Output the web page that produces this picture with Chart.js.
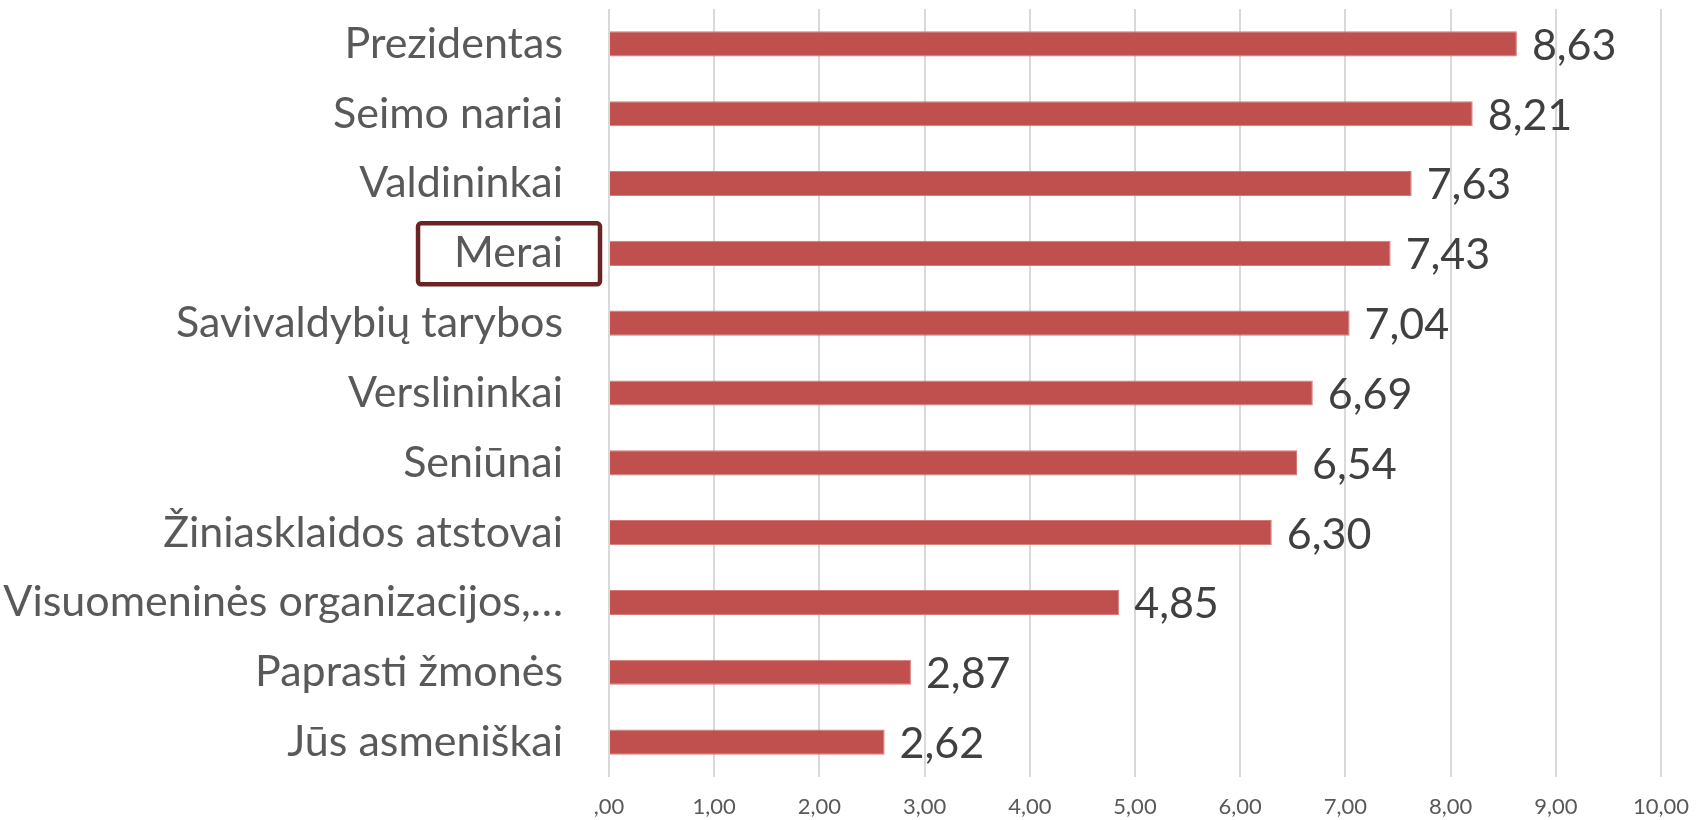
<!DOCTYPE html>
<html>
<head>
<meta charset="utf-8">
<script src="https://cdn.jsdelivr.net/npm/chart.js@4"></script>
<style>
    html, body { margin: 0; padding: 0; background: #ffffff; }
    #wrap { width: 1699px; height: 820px; }
</style>
</head>
<body>
<div id="wrap"><canvas id="trustChart" width="1699" height="820"></canvas></div>
<script>
const categories = [
    'Prezidentas',
    'Seimo nariai',
    'Valdininkai',
    'Merai',
    'Savivaldybių tarybos',
    'Verslininkai',
    'Seniūnai',
    'Žiniasklaidos atstovai',
    'Visuomeninės organizacijos,…',
    'Paprasti žmonės',
    'Jūs asmeniškai'
];

const scores = [8.63, 8.21, 7.63, 7.43, 7.04, 6.69, 6.54, 6.30, 4.85, 2.87, 2.62];

const tickValues = [0, 1, 2, 3, 4, 5, 6, 7, 8, 9, 10];

const highlighted = 'Merai';

function lt(v, digits) {
    const s = v.toFixed(digits).replace('.', ',');
    return s.startsWith('0,') ? s.slice(1) : s;
}

// value labels at the end of each bar
const valueLabels = {
    id: 'valueLabels',
    afterDatasetsDraw(chart) {
        const c = chart.ctx;
        const meta = chart.getDatasetMeta(0);
        c.save();
        c.font = '43px Lato';
        c.fillStyle = '#404040';
        c.textAlign = 'left';
        c.textBaseline = 'middle';
        meta.data.forEach((bar, i) => {
            c.fillText(lt(scores[i], 2), bar.x + 15, bar.y + 2);
        });
        c.restore();
    }
};

// frame around the highlighted category label
const labelFrame = {
    id: 'labelFrame',
    afterDraw(chart) {
        const c = chart.ctx;
        const yScale = chart.scales.y;
        const idx = categories.indexOf(highlighted);
        if (idx < 0) return;
        const y = yScale.getPixelForValue(idx);
        c.save();
        c.font = '43px Lato';
        const w = c.measureText(highlighted).width;
        const right = yScale.right - 46;
        const x0 = right - w - 36;
        const x1 = right + 37;
        c.strokeStyle = '#6b2424';
        c.lineWidth = 4.5;
        c.beginPath();
        c.roundRect(x0, y - 30, x1 - x0, 61, 3);
        c.stroke();
        c.restore();
    }
};

const ctx = document.getElementById('trustChart').getContext('2d');

const trustChart = new Chart(ctx, {
    type: 'bar',
    data: {
        labels: categories,
        datasets: [{
            data: scores,
            backgroundColor: '#c0504d',
            borderColor: '#d47a77',
            borderWidth: 1,
            categoryPercentage: 1,
            barPercentage: 0.36
        }]
    },
    options: {
        indexAxis: 'y',
        responsive: false,
        animation: false,
        layout: {
            padding: { top: 9, right: 38, left: 0, bottom: 0 }
        },
        plugins: {
            legend: { display: false },
            tooltip: { enabled: false }
        },
        scales: {
            x: {
                min: 0,
                max: 10,
                afterBuildTicks(scale) {
                    scale.ticks = tickValues.map(v => ({ value: v }));
                },
                afterFit(scale) {
                    scale.height = 43;
                    scale.paddingLeft = 0;
                    scale.paddingRight = 0;
                },
                border: { display: false },
                grid: {
                    color: '#d9d9d9',
                    lineWidth: 2,
                    drawTicks: false
                },
                ticks: {
                    padding: 17,
                    color: '#595959',
                    font: { family: 'Lato', size: 22 },
                    maxRotation: 0,
                    callback: v => lt(v, 2)
                }
            },
            y: {
                afterFit(scale) {
                    scale.width = 609;
                    scale.paddingTop = 0;
                    scale.paddingBottom = 0;
                },
                border: { display: false },
                grid: { display: false, drawTicks: false },
                ticks: {
                    padding: 46,
                    color: '#595959',
                    font: { family: 'Lato', size: 43 },
                    autoSkip: false
                }
            }
        }
    },
    plugins: [valueLabels, labelFrame]
});
</script>
</body>
</html>
